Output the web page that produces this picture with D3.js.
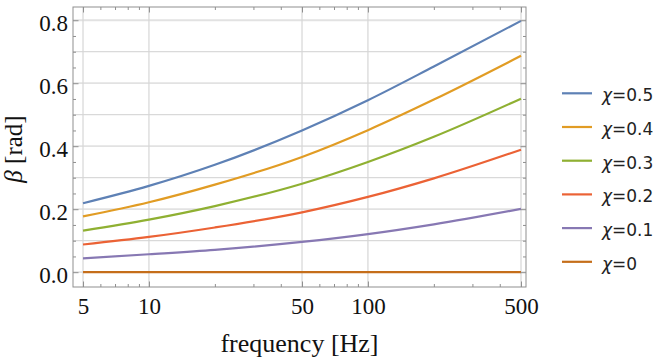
<!DOCTYPE html>
<html>
<head>
<meta charset="utf-8">
<script src="https://cdn.jsdelivr.net/npm/d3@7"></script>
<style>
  html, body { margin: 0; padding: 0; background: #fff; }
  svg { display: block; }
</style>
</head>
<body>
<svg id="chart" width="664" height="359"></svg>
<script>
// ---- data ----
const freq   = [5, 10, 20, 50, 100, 200, 500];
const beta05 = [0.219, 0.274, 0.341, 0.450, 0.546, 0.653, 0.798];
const beta04 = [0.177, 0.222, 0.278, 0.366, 0.451, 0.548, 0.687];
const beta03 = [0.132, 0.167, 0.210, 0.281, 0.350, 0.430, 0.551];
const beta02 = [0.088, 0.112, 0.142, 0.190, 0.239, 0.298, 0.389];
const beta01 = [0.044, 0.057, 0.071, 0.096, 0.121, 0.152, 0.201];
const beta00 = [0, 0, 0, 0, 0, 0, 0];
const seriesLabels = ["0.5", "0.4", "0.3", "0.2", "0.1", "0"];
const seriesValues = [beta05, beta04, beta03, beta02, beta01, beta00];
const colors = ["#5E81B5", "#E19C24", "#8FB032", "#EB6235", "#8778B3", "#C56E1A"];

const xMajorTicks = [5, 10, 50, 100, 500];
const xMinorTicks = [6, 7, 8, 9, 20, 30, 40, 60, 70, 80, 90, 200, 300, 400];
const yMajorTicks = [0.0, 0.2, 0.4, 0.6, 0.8];
const yMinorTicks = [0.05, 0.1, 0.15, 0.25, 0.3, 0.35, 0.45, 0.5, 0.55, 0.65, 0.7, 0.75];
const yGridMajor = [0.0, 0.2, 0.4, 0.6, 0.8];
const yGridMinor = [0.1, 0.3, 0.5, 0.7];
const xGrid = [5, 10, 50, 100, 500];

// ---- layout ----
const L = 73, R = 526, T = 7, B = 287;
const svg = d3.select("#chart");

const x = d3.scaleLog().domain([4.5, 527]).range([L, R]);
const y = d3.scaleLinear().domain([-0.047, 0.842]).range([B, T]);

const serif = "'Liberation Serif', 'Times New Roman', serif";
const sans = "'DejaVu Sans', sans-serif";

// grid
const g = svg.append("g");
g.selectAll(".hgm").data(yGridMajor).join("line")
  .attr("x1", L).attr("x2", R).attr("y1", d => y(d)).attr("y2", d => y(d))
  .attr("stroke", "#e2e2e2").attr("stroke-width", 1.8);
g.selectAll(".hgn").data(yGridMinor).join("line")
  .attr("x1", L).attr("x2", R).attr("y1", d => y(d)).attr("y2", d => y(d))
  .attr("stroke", "#d0d0d0").attr("stroke-width", 1);
g.selectAll(".vg").data(xGrid).join("line")
  .attr("x1", d => x(d)).attr("x2", d => x(d)).attr("y1", T).attr("y2", B)
  .attr("stroke", "#d6d6d6").attr("stroke-width", 1.2);

// lines
const line = d3.line().x(d => x(d[0])).y(d => y(d[1])).curve(d3.curveMonotoneX);
seriesValues.forEach((vals, i) => {
  svg.append("path")
    .datum(freq.map((f, j) => [f, vals[j]]))
    .attr("d", line)
    .attr("fill", "none")
    .attr("stroke", colors[i])
    .attr("stroke-width", 2.2);
});

// frame
const frameColor = "#8f8f8f";
svg.append("rect").attr("x", L).attr("y", T).attr("width", R - L).attr("height", B - T)
  .attr("fill", "none").attr("stroke", frameColor).attr("stroke-width", 1);

// axes with ticks inward
const bottomMajor = d3.axisBottom(x).tickValues(xMajorTicks).tickSize(-5.5).tickFormat(d3.format("d")).tickPadding(11);
const bottomMinor = d3.axisBottom(x).tickValues(xMinorTicks).tickSize(-3).tickFormat("");
const topMajor = d3.axisTop(x).tickValues(xMajorTicks).tickSize(-5.5).tickFormat("");
const topMinor = d3.axisTop(x).tickValues(xMinorTicks).tickSize(-3).tickFormat("");
const leftMajor = d3.axisLeft(y).tickValues(yMajorTicks).tickSize(-5.5).tickFormat(d3.format(".1f")).tickPadding(5);
const leftMinor = d3.axisLeft(y).tickValues(yMinorTicks).tickSize(-3).tickFormat("");
const rightMajor = d3.axisRight(y).tickValues(yMajorTicks).tickSize(-5.5).tickFormat("");
const rightMinor = d3.axisRight(y).tickValues(yMinorTicks).tickSize(-3).tickFormat("");

function styleAxis(sel) {
  sel.select(".domain").remove();
  sel.selectAll(".tick line").attr("stroke", frameColor).attr("stroke-width", 1);
}
const ax = [
  [bottomMajor, `translate(0,${B})`, "b"], [bottomMinor, `translate(0,${B})`, ""],
  [topMajor, `translate(0,${T})`, ""], [topMinor, `translate(0,${T})`, ""],
  [leftMajor, `translate(${L},0)`, "l"], [leftMinor, `translate(${L},0)`, ""],
  [rightMajor, `translate(${R},0)`, ""], [rightMinor, `translate(${R},0)`, ""]
];
ax.forEach(([a, tr, kind]) => {
  const s = svg.append("g").attr("transform", tr).call(a);
  styleAxis(s);
  s.selectAll("text").attr("font-family", serif).attr("font-size", "23px").attr("fill", "#111");
  if (kind === "l") s.selectAll(".tick text").attr("dy", "0.45em");
});

// axis titles
svg.append("text")
  .attr("x", (L + R) / 2).attr("y", 351.5)
  .attr("text-anchor", "middle")
  .attr("font-family", serif).attr("font-size", "26px").attr("fill", "#111")
  .text("frequency [Hz]");

const yl = svg.append("text")
  .attr("transform", `translate(22,${(T + B) / 2 + 2}) rotate(-90)`)
  .attr("text-anchor", "middle")
  .attr("font-family", serif).attr("font-size", "25px").attr("fill", "#111");
yl.append("tspan").attr("font-style", "italic").text("β");
yl.append("tspan").text(" [rad]");

// legend
const leg = svg.append("g");
seriesLabels.forEach((lab, i) => {
  const yy = 93.3 + i * 33.7;
  leg.append("line").attr("x1", 562).attr("x2", 592).attr("y1", yy).attr("y2", yy)
    .attr("stroke", colors[i]).attr("stroke-width", 2.2);
  const t = leg.append("text").attr("x", 602).attr("y", yy + 8)
    .attr("font-family", sans).attr("font-size", "17px").attr("fill", "#222");
  t.append("tspan").attr("font-style", "italic").text("χ");
  t.append("tspan").text("=" + lab);
});
</script>
</body>
</html>
